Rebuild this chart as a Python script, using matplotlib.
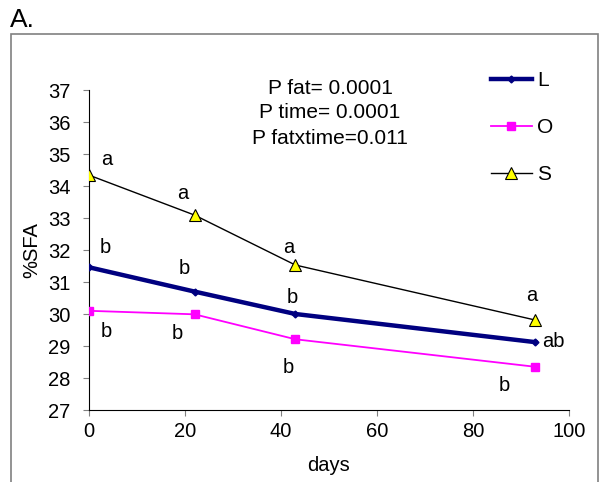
import matplotlib.pyplot as plt
import matplotlib.patches as patches

plt.rcParams['font.family'] = ['Liberation Sans', 'DejaVu Sans']

days = [0, 22, 43, 93]
sfa_L = [31.46, 30.70, 30.00, 29.12]
sfa_O = [30.10, 29.99, 29.21, 28.35]
sfa_S = [34.34, 33.09, 31.53, 29.81]

# significance letters (text, x, y)
letters_S = [('a', 3.7, 34.84), ('a', 19.6, 33.78), ('a', 41.7, 32.09), ('a', 92.3, 30.59)]
letters_L = [('b', 3.3, 32.09), ('b', 19.8, 31.41), ('b', 42.3, 30.53), ('ab', 96.7, 29.13)]
letters_O = [('b', 3.7, 29.44), ('b', 18.3, 29.38), ('b', 41.5, 28.34), ('b', 86.5, 27.78)]

p_text = 'P fat= 0.0001\nP time= 0.0001\nP fatxtime=0.011'

fig = plt.figure(figsize=(6, 4.82), dpi=100)
ax = fig.add_axes([89/600, 1-410/482, 480/600, 320/482])

ax.plot(days, sfa_L, color='#000080', linewidth=3.2, marker='D', markersize=3.5, label='L', zorder=3)
ax.plot(days, sfa_O, color='#FF00FF', linewidth=1.3, marker='s', markersize=6, label='O', zorder=3)
ax.plot(days, sfa_S, color='black', linewidth=1.0, marker='^', markersize=9,
        markerfacecolor='#FFFF00', markeredgecolor='black', markeredgewidth=0.8, label='S', zorder=4)

for grp in (letters_S, letters_L, letters_O):
    for t, x, y in grp:
        ax.text(x, y, t, ha='center', va='center', fontsize=14.5, clip_on=False)

ax.set_xlim(0, 100)
ax.set_ylim(27, 37)
ax.set_xticks(range(0, 101, 20))
ax.set_yticks(range(27, 38))
ax.spines['top'].set_visible(False)
ax.spines['right'].set_visible(False)
ax.tick_params(axis='both', direction='out', length=4.5, width=0.8, color='#808080', labelsize=14.5)
ax.tick_params(axis='y', pad=9)
ax.tick_params(axis='x', pad=4)
ax.set_xlabel('days', fontsize=14.5)
ax.set_ylabel('%SFA', fontsize=14.5)
ax.xaxis.set_label_coords(0.499, -0.145)
ax.yaxis.set_label_coords(-0.1, 0.5)

fig.text(330/600, 1-113/482, p_text, ha='center', va='center', fontsize=15, linespacing=1.4)

ax.legend(loc='upper left', bbox_to_anchor=(491/600, 1-71/482), bbox_transform=fig.transFigure,
          frameon=False, fontsize=15, handlelength=1.95, labelspacing=1.35, handletextpad=0.25,
          borderpad=0, borderaxespad=0)

fig.text(10/600, 1-27/482, 'A.', fontsize=19, ha='left', va='baseline')
fig.add_artist(patches.Rectangle((11/600, -0.05), 587/600, 0.05+1-34/482, transform=fig.transFigure,
                                 fill=False, edgecolor='#808080', linewidth=1.2))

fig.savefig('out.png', dpi=100)
